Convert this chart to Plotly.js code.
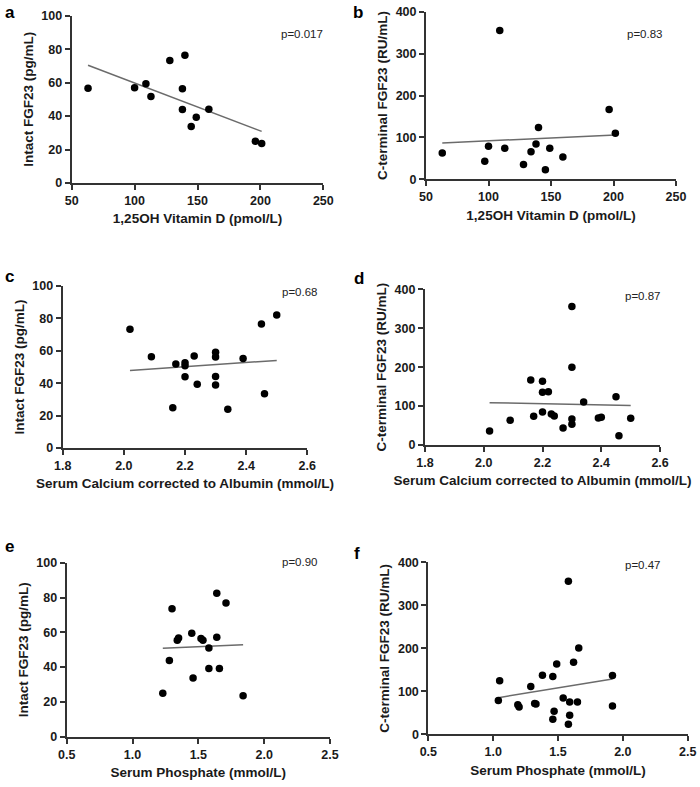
<!DOCTYPE html>
<html>
<head>
<meta charset="utf-8">
<script src="https://cdn.plot.ly/plotly-3.0.1.min.js"></script>
<style>html,body{margin:0;padding:0;background:#fff;}#chart{width:700px;height:787px;}</style>
</head>
<body>
<div id="chart"></div>
<script>
// Panel a: 1,25OH Vitamin D vs Intact FGF23
const aX = [63, 100, 109, 113, 128, 140, 138, 138, 149, 145, 159, 196, 201];
const aY = [56.7, 57, 59.3, 51.7, 73.3, 76.4, 56.3, 43.9, 39.3, 33.7, 44.1, 24.9, 23.6];
// Panel b: 1,25OH Vitamin D vs C-terminal FGF23
const bX = [63, 97, 100, 109, 113, 128, 134, 138, 140, 145.5, 149, 159.5, 196.5, 201.5];
const bY = [63, 43, 79, 355, 74, 35, 66, 84.5, 123.5, 23, 74, 53.4, 166.5, 110];
// Panel c: Serum Calcium vs Intact FGF23
const cX = [2.02, 2.09, 2.17, 2.20, 2.20, 2.20, 2.16, 2.23, 2.24, 2.30, 2.30, 2.30, 2.30, 2.34, 2.39, 2.45, 2.46, 2.50];
const cY = [73.3, 56.4, 51.9, 52.7, 50.8, 44.0, 24.9, 56.8, 39.3, 59.1, 56.2, 44.2, 38.9, 23.9, 55.3, 76.5, 33.5, 82.1];
// Panel d: Serum Calcium vs C-terminal FGF23
const dX = [2.02, 2.09, 2.16, 2.17, 2.20, 2.20, 2.20, 2.22, 2.23, 2.24, 2.27, 2.30, 2.30, 2.30, 2.30, 2.34, 2.39, 2.40, 2.45, 2.46, 2.50];
const dY = [36, 63.4, 167, 73.7, 163.6, 135.3, 84.8, 137, 79.7, 74.5, 43.7, 356, 200, 66.8, 53.1, 110.5, 69.4, 71.1, 124.2, 24, 68.5];
// Panel e: Serum Phosphate vs Intact FGF23
const eX = [1.23, 1.28, 1.30, 1.34, 1.35, 1.45, 1.46, 1.52, 1.535, 1.58, 1.58, 1.64, 1.64, 1.66, 1.71, 1.84];
const eY = [25, 43.8, 73.5, 55.4, 56.8, 59.4, 33.7, 56.4, 55.4, 51, 39.2, 82.5, 57.1, 39.2, 76.8, 23.6];
// Panel f: Serum Phosphate vs C-terminal FGF23
const fX = [1.04, 1.05, 1.19, 1.20, 1.29, 1.32, 1.33, 1.38, 1.46, 1.46, 1.47, 1.49, 1.54, 1.58, 1.58, 1.59, 1.59, 1.62, 1.65, 1.66, 1.92, 1.92];
const fY = [78.8, 124.3, 68.7, 63.3, 111.2, 71.8, 70.3, 137.5, 134.4, 34.7, 53.3, 163.7, 84.2, 356, 23.2, 74.9, 44, 167.6, 74.9, 200.8, 136.7, 65.6];

const pValues = ['p=0.017', 'p=0.83', 'p=0.68', 'p=0.87', 'p=0.90', 'p=0.47'];
const panelLetters = ['a', 'b', 'c', 'd', 'e', 'f'];
const xTitles = ['1,25OH Vitamin D (pmol/L)', '1,25OH Vitamin D (pmol/L)',
  'Serum Calcium corrected to Albumin (mmol/L)', 'Serum Calcium corrected to Albumin (mmol/L)',
  'Serum Phosphate (mmol/L)', 'Serum Phosphate (mmol/L)'];
const yTitles = ['Intact FGF23 (pg/mL)', 'C-terminal FGF23 (RU/mL)',
  'Intact FGF23 (pg/mL)', 'C-terminal FGF23 (RU/mL)',
  'Intact FGF23 (pg/mL)', 'C-terminal FGF23 (RU/mL)'];

const panels = [
  {x: aX, y: aY, xr: [50, 250], xd: 50, xf: '', yr: [0, 100], yd: 20, dx: [0.1024, 0.4619], dy: [0.7675, 0.980]},
  {x: bX, y: bY, xr: [50, 250], xd: 50, xf: '', yr: [0, 400], yd: 100, dx: [0.6086, 0.9657], dy: [0.7722, 0.9851]},
  {x: cX, y: cY, xr: [1.8, 2.6], xd: 0.2, xf: '.1f', yr: [0, 100], yd: 20, dx: [0.0896, 0.439], dy: [0.4307, 0.6366]},
  {x: dX, y: dY, xr: [1.8, 2.6], xd: 0.2, xf: '.1f', yr: [0, 400], yd: 100, dx: [0.607, 0.943], dy: [0.4346, 0.6324]},
  {x: eX, y: eY, xr: [0.5, 2.5], xd: 0.5, xf: '.1f', yr: [0, 100], yd: 20, dx: [0.0953, 0.4714], dy: [0.0639, 0.285]},
  {x: fX, y: fY, xr: [0.5, 2.5], xd: 0.5, xf: '.1f', yr: [0, 400], yd: 100, dx: [0.6119, 0.9824], dy: [0.067, 0.2855]}
];
// annotation pixel positions (from top-left)
const pPos = [[302, 34], [645, 34], [300, 292], [643, 296], [300, 562], [643, 565]];
const letterPos = [[10, 12], [358, 12], [9, 276], [359, 278], [9, 546], [357, 553]];

function fit(xs, ys) {
  const n = xs.length;
  const mx = xs.reduce((s, v) => s + v, 0) / n;
  const my = ys.reduce((s, v) => s + v, 0) / n;
  let sxy = 0, sxx = 0;
  for (let i = 0; i < n; i++) { sxy += (xs[i] - mx) * (ys[i] - my); sxx += (xs[i] - mx) ** 2; }
  const b = sxy / sxx, a = my - b * mx;
  const x0 = Math.min(...xs), x1 = Math.max(...xs);
  return {x: [x0, x1], y: [a + b * x0, a + b * x1]};
}

const W = 700, H = 787;
const FONT = 'Liberation Sans, Arial, sans-serif';
const data = [];
const layout = {
  width: W, height: H,
  margin: {l: 0, r: 0, t: 0, b: 0},
  paper_bgcolor: '#fff', plot_bgcolor: '#fff',
  showlegend: false,
  font: {family: FONT, color: '#222'},
  annotations: []
};

panels.forEach((p, i) => {
  const k = i === 0 ? '' : String(i + 1);
  const xa = 'x' + k, ya = 'y' + k;
  const line = fit(p.x, p.y);
  data.push({type: 'scatter', mode: 'lines', x: line.x, y: line.y, xaxis: xa, yaxis: ya,
    line: {color: '#6b6b6b', width: 1.5}, hoverinfo: 'skip'});
  data.push({type: 'scatter', mode: 'markers', x: p.x, y: p.y, xaxis: xa, yaxis: ya,
    marker: {color: '#000', size: 7.5}});
  const axCommon = {
    showline: true, linecolor: '#333', linewidth: 2, mirror: false,
    ticks: 'outside', ticklen: 5, tickwidth: 2, tickcolor: '#333',
    showgrid: false, zeroline: false, fixedrange: true,
    tickprefix: '<b>', ticksuffix: '</b>',
    tickfont: {family: FONT, size: 12.5, color: '#1a1a1a', weight: 700},
    automargin: false
  };
  layout['xaxis' + k] = Object.assign({}, axCommon, {
    domain: p.dx, range: p.xr, dtick: p.xd, tick0: p.xr[0], tickformat: p.xf,
    anchor: ya,
    title: {text: xTitles[i], font: {family: FONT, size: 13.5, color: '#1a1a1a', weight: 700}, standoff: 7}
  });
  layout['yaxis' + k] = Object.assign({}, axCommon, {
    domain: p.dy, range: p.yr, dtick: p.yd, tick0: 0,
    anchor: xa,
    title: {text: yTitles[i], font: {family: FONT, size: 13.5, color: '#1a1a1a', weight: 700}, standoff: 5}
  });
  layout.annotations.push({
    xref: 'paper', yref: 'paper', x: pPos[i][0] / W, y: 1 - pPos[i][1] / H,
    xanchor: 'center', yanchor: 'middle', showarrow: false, text: pValues[i],
    font: {family: FONT, size: 11.5, color: '#222'}
  });
  layout.annotations.push({
    xref: 'paper', yref: 'paper', x: letterPos[i][0] / W, y: 1 - letterPos[i][1] / H,
    xanchor: 'center', yanchor: 'middle', showarrow: false, text: panelLetters[i],
    font: {family: FONT, size: 17, color: '#000', weight: 700}
  });
});

Plotly.newPlot('chart', data, layout, {displayModeBar: false, staticPlot: true});
</script>
</body>
</html>
